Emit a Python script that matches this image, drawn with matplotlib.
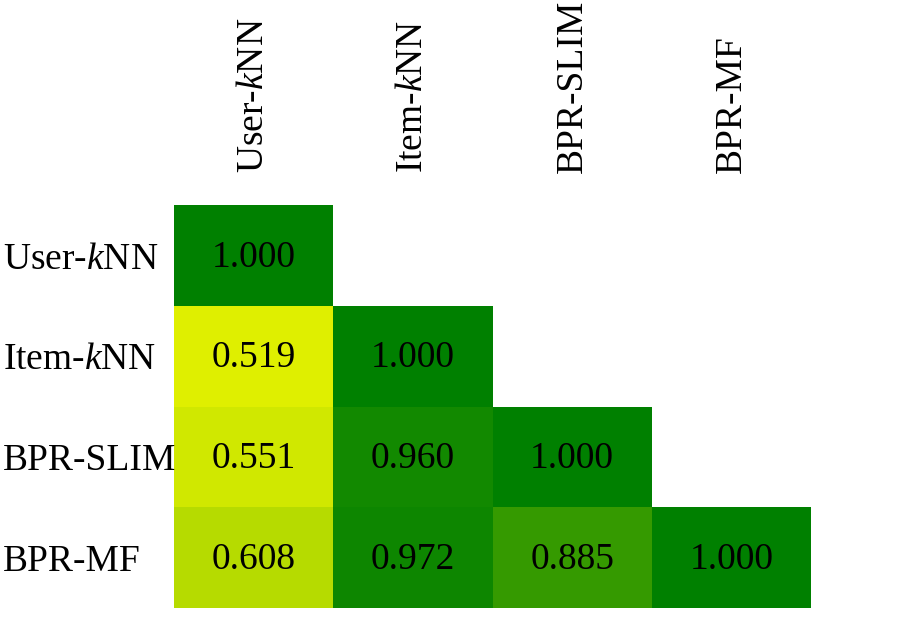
import numpy as np
import matplotlib
matplotlib.use("Agg")
import matplotlib.pyplot as plt
from matplotlib.colors import LinearSegmentedColormap


# ======================================
# DATA
# ======================================

models = ["User-$k$NN", "Item-$k$NN", "BPR-SLIM", "BPR-MF"]

row_user_knn = [1.000, np.nan, np.nan, np.nan]
row_item_knn = [0.519, 1.000, np.nan, np.nan]
row_bpr_slim = [0.551, 0.960, 1.000, np.nan]
row_bpr_mf = [0.608, 0.972, 0.885, 1.000]


# ======================================
# STYLE
# ======================================

plt.rcParams["font.family"] = ["Liberation Serif", "DejaVu Serif"]
plt.rcParams["mathtext.fontset"] = "custom"
plt.rcParams["mathtext.rm"] = "Liberation Serif"
plt.rcParams["mathtext.it"] = "Liberation Serif:italic"

cmap = LinearSegmentedColormap.from_list("yg", ["#ffff00", "#008000"])

font_size = 27


# ======================================
# PLOT
# ======================================

matrix = np.ma.masked_invalid(
    np.array([row_user_knn, row_item_knn, row_bpr_slim, row_bpr_mf])
)

fig = plt.figure(figsize=(8.98, 6.17), dpi=100)
ax = fig.add_axes([0.1938, 0.0146, 0.7093, 0.6531])

ax.pcolormesh(matrix, cmap=cmap, vmin=0.45, vmax=1.0)
ax.set_xlim(0, 4)
ax.set_ylim(4, 0)

for i in range(4):
    for j in range(4):
        if not np.ma.is_masked(matrix[i, j]):
            ax.text(
                j + 0.5, i + 0.52, f"{matrix[i, j]:.3f}",
                ha="center", va="center", fontsize=font_size, color="black"
            )

ax.xaxis.tick_top()
ax.set_xticks(np.arange(4) + 0.5)
ax.set_xticklabels(models, rotation=90, fontsize=font_size)
ax.set_yticks(np.arange(4) + 0.5)
ax.set_yticklabels(models, fontsize=font_size, ha="left")

ax.tick_params(axis="x", length=0, pad=23)
ax.tick_params(axis="y", length=0, pad=123)

for spine in ax.spines.values():
    spine.set_visible(False)

fig.savefig("out.png", dpi=100)
